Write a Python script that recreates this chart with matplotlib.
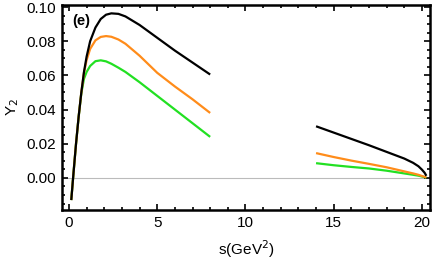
import matplotlib
matplotlib.use("Agg")
import matplotlib.pyplot as plt
from matplotlib.ticker import MultipleLocator
import numpy as np

plt.rcParams["font.family"] = ["Liberation Sans", "DejaVu Sans"]

# low-s branch (s in GeV^2)
s_low = [0.13, 0.25, 0.4, 0.55, 0.7, 0.85, 1.0, 1.2, 1.5, 1.8, 2.1, 2.4, 2.8, 3.2,
         4.0, 5.0, 6.0, 7.0, 8.0]
black_low = [-0.013, 0.002, 0.020, 0.036, 0.050, 0.062, 0.071, 0.080, 0.088, 0.093,
             0.0955, 0.0963, 0.096, 0.0945, 0.0895, 0.082, 0.0745, 0.0675, 0.0605]
orange_low = [-0.013, 0.002, 0.020, 0.036, 0.050, 0.0615, 0.069, 0.0755, 0.0805, 0.0825,
              0.083, 0.0826, 0.081, 0.0785, 0.0715, 0.0615, 0.0535, 0.046, 0.038]
green_low = [-0.013, 0.002, 0.020, 0.036, 0.0495, 0.058, 0.062, 0.0655, 0.0683, 0.0688,
             0.0682, 0.0668, 0.0645, 0.062, 0.056, 0.048, 0.040, 0.032, 0.024]

# high-s branch
s_high = [14.0, 15.0, 16.0, 17.0, 18.0, 19.0, 19.5, 19.8, 20.0, 20.15, 20.25]
black_high = [0.0302, 0.0265, 0.0228, 0.0191, 0.0152, 0.0113, 0.0088, 0.0068, 0.0048,
              0.003, 0.0012]
orange_high = [0.0145, 0.0122, 0.0101, 0.0082, 0.0062, 0.0038, 0.0026, 0.0018, 0.0011,
               0.0006, 0.0002]
green_high = [0.0086, 0.0074, 0.0064, 0.0055, 0.0042, 0.0026, 0.0018, 0.0013, 0.0008,
              0.0004, 0.0001]

colors = ["black", "#ff8c1a", "#22e022"]

fig = plt.figure(figsize=(4.36, 2.62), dpi=100)
ax = fig.add_axes([0.142, 0.1985, 0.844, 0.7825])

ax.axhline(0, color="#bbbbbb", lw=0.8, zorder=1)
for c, lo, hi in [(colors[2], green_low, green_high),
                  (colors[1], orange_low, orange_high),
                  (colors[0], black_low, black_high)]:
    ax.plot(s_low, lo, color=c, lw=1.6, solid_capstyle="butt", solid_joinstyle="round")
    ax.plot(s_high, hi, color=c, lw=1.6, solid_capstyle="butt", solid_joinstyle="round")

ax.set_xlim(-0.4, 20.45)
ax.set_ylim(-0.0188, 0.1012)
ax.xaxis.set_major_locator(MultipleLocator(5))
ax.xaxis.set_minor_locator(MultipleLocator(1))
ax.yaxis.set_major_locator(MultipleLocator(0.02))
ax.yaxis.set_minor_locator(MultipleLocator(0.005))
ax.yaxis.set_major_formatter(matplotlib.ticker.FormatStrFormatter("%.2f"))
ax.tick_params(which="both", direction="in", top=True, right=True, labelsize=11,
               width=1.2, pad=4)
ax.tick_params(which="major", length=4)
ax.tick_params(which="minor", length=2)
for sp in ax.spines.values():
    sp.set_linewidth(1.8)

ax.set_xlabel("s(GeV$^2$)", fontsize=11, labelpad=6)
ax.set_ylabel("Y$_2$", fontsize=11, labelpad=4)
ax.text(0.027, 0.92, "(e)", transform=ax.transAxes, fontsize=10.5, fontweight="bold",
        va="center", ha="left")

fig.savefig("out.png", dpi=100)
